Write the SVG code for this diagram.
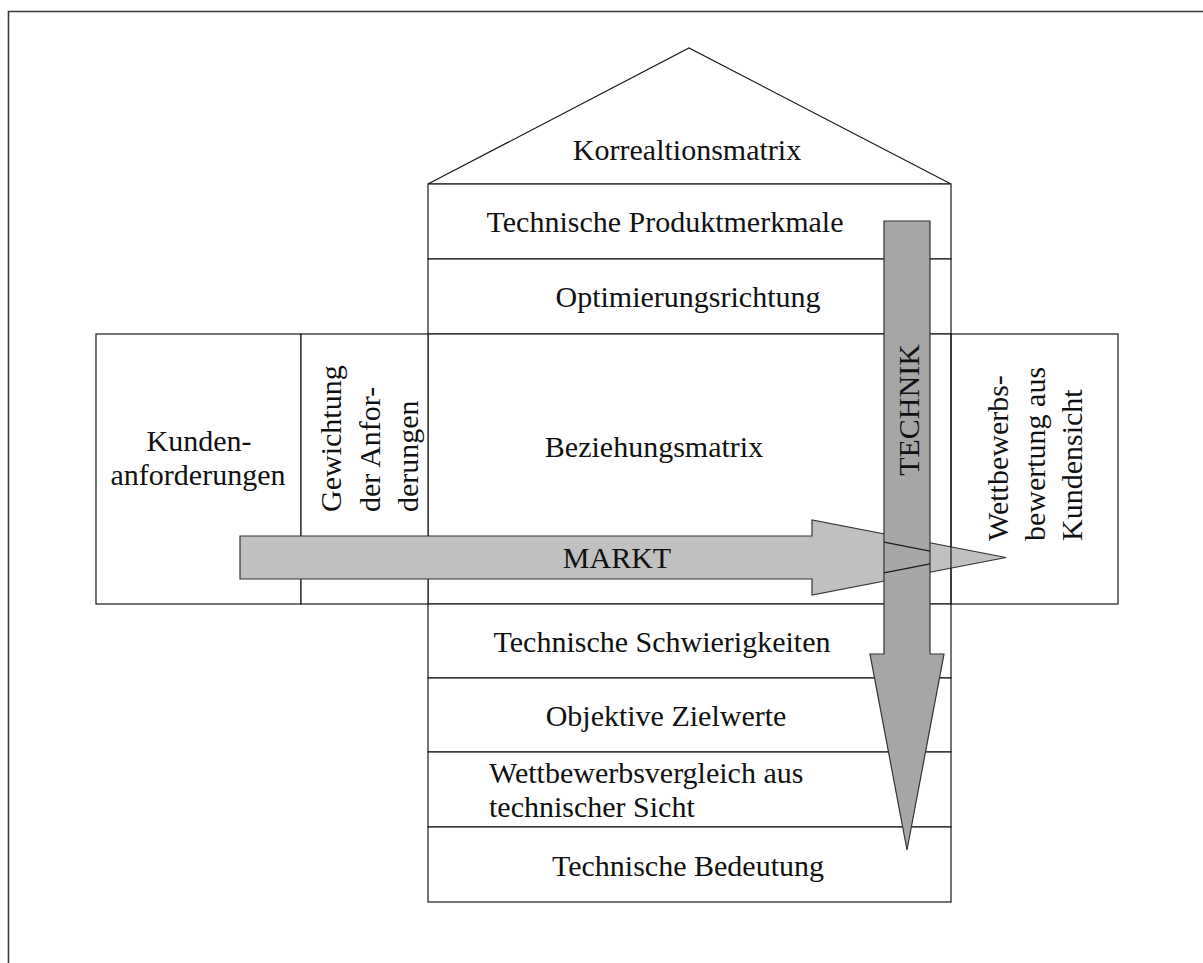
<svg xmlns="http://www.w3.org/2000/svg" width="1203" height="963" viewBox="0 0 1203 963">
  <style>
    .box { fill: #ffffff; stroke: #1a1a1a; stroke-width: 1.2; }
    .line { fill: none; stroke: #1a1a1a; stroke-width: 1.2; }
    .lbl { font-family: "Liberation Serif", "Times New Roman", serif; font-size: 30px; fill: #111111; }
    .mid { text-anchor: middle; }
    .arrow-markt { fill: #c0c0c0; stroke: #333333; stroke-width: 1.2; }
    .arrow-technik { fill: #a6a6a6; stroke: #333333; stroke-width: 1.2; }
  </style>

  <rect x="0" y="0" width="1203" height="963" fill="#ffffff"/>

  <!-- page frame -->
  <path d="M8.5,963 V11.5 H1203" fill="none" stroke="#3a3a3a" stroke-width="1.6"/>

  <!-- roof: correlation matrix -->
  <g id="korrelationsmatrix">
    <polygon class="box" points="428,184 689,48 951,184"/>
    <text class="lbl mid" x="687" y="160">Korrealtionsmatrix</text>
  </g>

  <!-- central column -->
  <g id="technische-produktmerkmale">
    <rect class="box" x="428" y="184" width="523" height="75"/>
    <text class="lbl mid" x="665" y="232">Technische Produktmerkmale</text>
  </g>
  <g id="optimierungsrichtung">
    <rect class="box" x="428" y="259" width="523" height="75"/>
    <text class="lbl mid" x="688" y="307">Optimierungsrichtung</text>
  </g>
  <g id="beziehungsmatrix">
    <rect class="box" x="428" y="334" width="523" height="270"/>
    <text class="lbl mid" x="654" y="457">Beziehungsmatrix</text>
  </g>
  <g id="technische-schwierigkeiten">
    <rect class="box" x="428" y="604" width="523" height="74"/>
    <text class="lbl mid" x="662" y="652">Technische Schwierigkeiten</text>
  </g>
  <g id="objektive-zielwerte">
    <rect class="box" x="428" y="678" width="523" height="74"/>
    <text class="lbl mid" x="666" y="726">Objektive Zielwerte</text>
  </g>
  <g id="wettbewerbsvergleich">
    <rect class="box" x="428" y="752" width="523" height="75"/>
    <text class="lbl" x="489" y="783">Wettbewerbsvergleich aus</text>
    <text class="lbl" x="489" y="817">technischer Sicht</text>
  </g>
  <g id="technische-bedeutung">
    <rect class="box" x="428" y="827" width="523" height="75"/>
    <text class="lbl mid" x="688" y="876">Technische Bedeutung</text>
  </g>

  <!-- left wing -->
  <g id="kundenanforderungen">
    <rect class="box" x="96" y="334" width="205" height="270"/>
    <text class="lbl mid" x="199" y="451">Kunden-</text>
    <text class="lbl mid" x="198" y="485">anforderungen</text>
  </g>
  <g id="gewichtung">
    <rect class="box" x="301" y="334" width="127" height="270"/>
    <g transform="rotate(-90)">
      <text class="lbl" x="-512" y="341">Gewichtung</text>
      <text class="lbl" x="-512" y="380">der Anfor-</text>
      <text class="lbl" x="-512" y="418">derungen</text>
    </g>
  </g>

  <!-- arrows -->
  <g id="connectors">
    <polygon id="markt-arrow" class="arrow-markt" points="240,536 812,536 812,520 1006,557.5 812,595 812,579 240,579"/>
    <text class="lbl mid" x="617" y="568">MARKT</text>

    <!-- right wing border sits above the market arrow -->
    <rect class="line" x="951" y="334" width="167" height="270"/>

    <polygon id="technik-arrow" class="arrow-technik" points="884,221 930,221 930,654 944,654 907,850 870,654 884,654"/>
    <text class="lbl mid" transform="translate(919,410) rotate(-90)" x="0" y="0">TECHNIK</text>

    <!-- outline of the market arrow head crossing the technik shaft -->
    <polyline class="line" points="884,542.2 930,551.1"/>
    <polyline class="line" points="884,572.8 930,563.9"/>
  </g>

  <!-- right wing -->
  <g id="wettbewerbsbewertung">
    <g transform="rotate(-90)">
      <text class="lbl" x="-541" y="1008">Wettbewerbs-</text>
      <text class="lbl" x="-541" y="1045">bewertung aus</text>
      <text class="lbl" x="-541" y="1082">Kundensicht</text>
    </g>
  </g>
</svg>
